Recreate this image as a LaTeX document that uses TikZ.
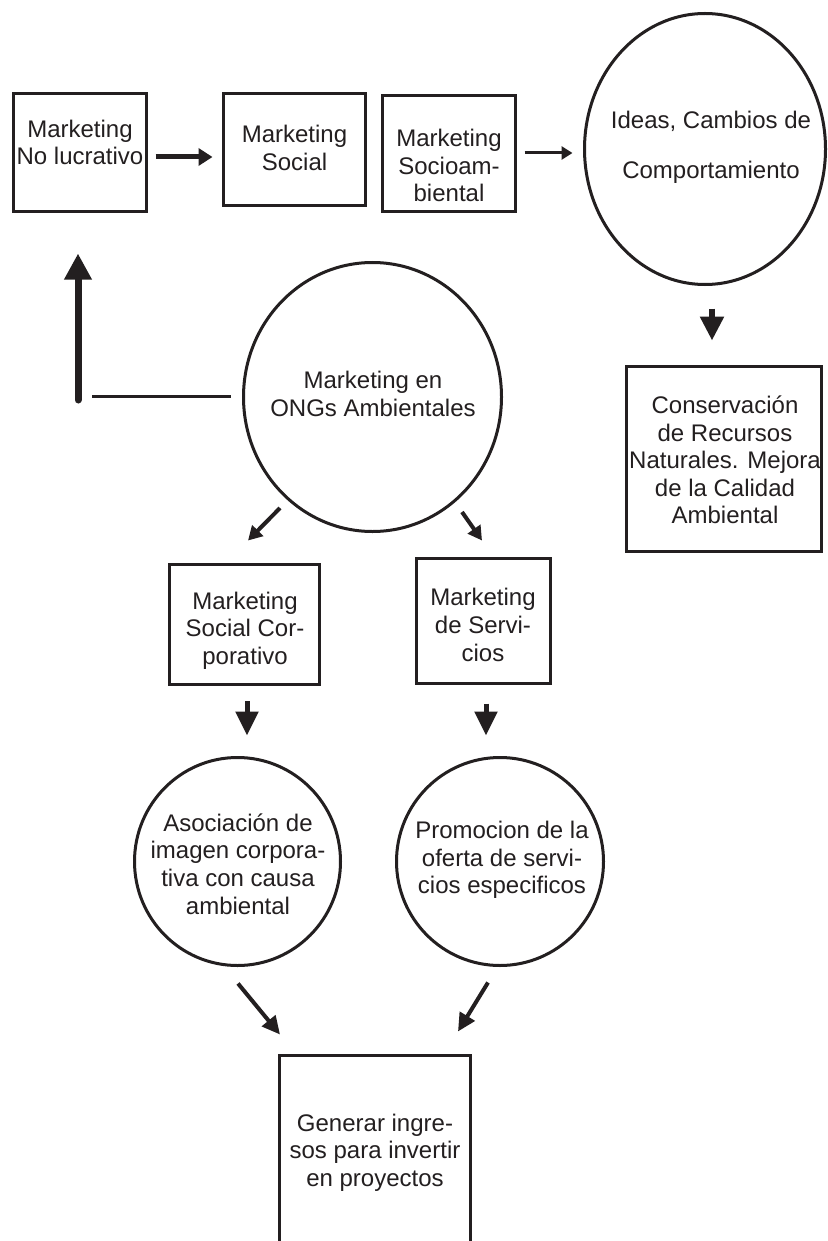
\documentclass[tikz,border=0pt]{standalone}
\usepackage{fontspec}
\setmainfont{Liberation Sans}
\usetikzlibrary{arrows.meta,shapes.geometric,calc}
\definecolor{ink}{RGB}{35,31,32}
\tikzset{
  box/.style={draw=ink, line width=1.5pt, rectangle, inner sep=0pt},
  oval/.style={draw=ink, line width=1.5pt, ellipse, inner sep=0pt},
  txt/.style={text=ink, align=center, inner sep=0pt, font=\fontsize{12}{13.8}\selectfont},
  conn/.style={draw=ink, fill=ink},
}
\begin{document}
\begin{tikzpicture}[x=0.5pt,y=-0.5pt]
\useasboundingbox (0,0) rectangle (828,1241);
\clip (0,0) rectangle (828,1241);
\fill[white] (0,0) rectangle (828,1241);

% boxes and ovals
\node[box, minimum width=66.5pt, minimum height=59pt] (b1) at (80,152.5) {};
\node[box, minimum width=71pt, minimum height=56pt] (b2) at (294.5,149.5) {};
\node[box, minimum width=66.5pt, minimum height=58pt] (b3) at (449,153.5) {};
\node[oval, minimum width=120.5pt, minimum height=135.5pt] (ideas) at (705,149) {};
\node[box, minimum width=97.5pt, minimum height=92.5pt] (cons) at (724,459) {};
\node[oval, minimum width=129pt, minimum height=134.5pt] (ong) at (372.5,397) {};
\node[box, minimum width=75pt, minimum height=60pt] (sc) at (244.5,624.5) {};
\node[box, minimum width=67pt, minimum height=62.5pt] (serv) at (483.5,621) {};
\node[oval, minimum width=103pt, minimum height=104pt] (asoc) at (237.5,861.5) {};
\node[oval, minimum width=103.5pt, minimum height=104pt] (prom) at (500,861.5) {};
\node[box, minimum width=95.5pt, minimum height=122.5pt] (gen) at (375,1177.5) {};

% texts
\node[txt] (b1t) at (80,142.5) {Marketing\\No lucrativo};
\node[txt] (b2t) at (294.5,148) {Marketing\\Social};
\node[txt] (b3t) at (449,165.5) {Marketing\\Socioam-\\biental};
\node[txt] (ideast) at (711,147) {Ideas, Cambios de\\[11pt]Comportamiento};
\node[txt] (const) at (725,460) {Conservación\\de Recursos\\Naturales. Mejora\\de la Calidad\\Ambiental};
\node[txt] (ongt) at (373,394) {Marketing en\\ONGs Ambientales};
\node[txt] (sct) at (245,630.5) {Marketing\\Social Cor-\\porativo};
\node[txt] (servt) at (483,625) {Marketing\\de Servi-\\cios};
\node[txt] (asoct) at (238,864) {Asociación de\\imagen corpora-\\tiva con causa\\ambiental};
\node[txt] (promt) at (502,860) {Promocion de la\\oferta de servi-\\cios especificos};
\node[txt] (gent) at (375,1152.5) {Generar ingre-\\sos para invertir\\en proyectos};

% connectors
\draw[draw=ink, line width=2.5pt, -{Triangle[length=7pt,width=8.5pt]}]
  ($(b1.east)+(7.5,4.5)$) -- ($(b2.west)+(-9.5,7.5)$);
\draw[draw=ink, line width=1.5pt, -{Triangle[length=5.5pt,width=6.5pt]}]
  ($(b3.east)+(7.5,-0.5)$) -- ($(ideas.west)+(-10.5,4)$);
\draw[draw=ink, line width=2.75pt, -{Triangle[length=12pt,width=11.5pt]}]
  ($(ideas.south)+(7,22.5)$) -- ($(cons.north)+(-12,-24.5)$);

\coordinate (fbk) at (78,400);
\draw[draw=ink, line width=1.5pt] ($(ong.west)+(-11.5,-1)$) -- ($(fbk)+(14,-4)$);
\draw[draw=ink, line width=3.5pt, line cap=round, -{Triangle[length=13pt,width=13pt]}]
  (fbk) -- ($(b1.south)+(-2,40.5)$);

\draw[draw=ink, line width=2pt, -{Triangle[length=7pt,width=7.5pt]}]
  ($(ong.center)+(-92.5,111)$) -- ($(sc.north)+(3.5,-22.5)$);
\draw[draw=ink, line width=2pt, -{Triangle[length=7pt,width=7.5pt]}]
  ($(ong.center)+(89.5,115)$) -- ($(serv.north)+(-1.5,-16.5)$);

\draw[draw=ink, line width=2.5pt, -{Triangle[length=12pt,width=11pt]}]
  ($(sc.south)+(2.5,15)$) -- ($(asoc.north)+(9.5,-20.5)$);
\draw[draw=ink, line width=2.5pt, -{Triangle[length=12pt,width=11pt]}]
  ($(serv.south)+(2.5,18.5)$) -- ($(prom.north)+(-14,-20.5)$);

\draw[draw=ink, line width=2pt, -{Triangle[length=9pt,width=8.5pt]}]
  ($(asoc.south)+(0.5,16.5)$) -- ($(gen.north)+(-95,-19)$);
\draw[draw=ink, line width=2pt, -{Triangle[length=9pt,width=8.5pt]}]
  ($(prom.south)+(-12,15.5)$) -- ($(gen.north)+(83,-22)$);
\end{tikzpicture}
\end{document}
